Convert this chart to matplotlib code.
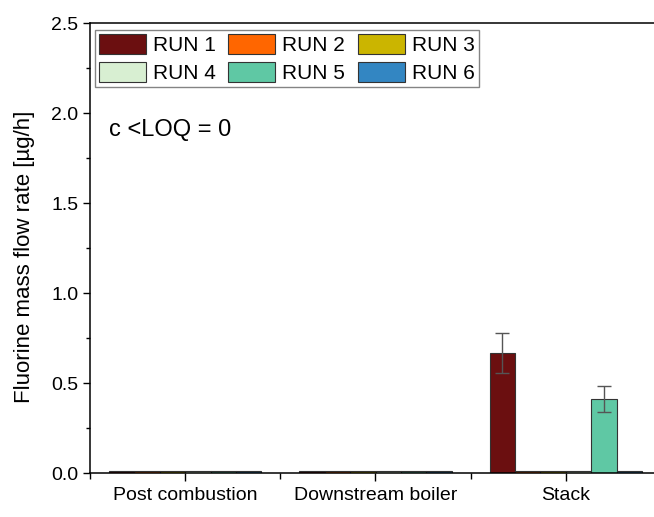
import numpy as np
import matplotlib
matplotlib.use("Agg")
import matplotlib.pyplot as plt
from matplotlib.ticker import MultipleLocator

plt.rcParams["font.family"] = ["Liberation Sans", "DejaVu Sans"]

locations = ["Post combustion", "Downstream boiler", "Stack"]
runs = ["RUN 1", "RUN 2", "RUN 3", "RUN 4", "RUN 5", "RUN 6"]
colors = ["#6b0f10", "#ff6600", "#cbb500", "#d8efd2", "#5fc8a4", "#3386c2"]

# values per run: [post combustion, downstream boiler, stack]
run1 = [0.013, 0.013, 0.667]
run2 = [0.013, 0.013, 0.013]
run3 = [0.013, 0.013, 0.013]
run4 = [0.013, 0.013, 0.013]
run5 = [0.013, 0.013, 0.411]
run6 = [0.013, 0.013, 0.013]
values = [run1, run2, run3, run4, run5, run6]

err1 = [0, 0, 0.11]
err5 = [0, 0, 0.072]
errors = [err1, None, None, None, err5, None]


def main():
    fig = plt.figure(figsize=(6.54, 5.17), dpi=100)
    ax = fig.add_axes([0.1376, 0.0845, 0.873, 0.8705])

    x = np.arange(1, len(locations) + 1)
    w = 0.1335
    handles = []
    for i, (vals, c, lab, err) in enumerate(zip(values, colors, runs, errors)):
        pos = x - 0.4 + w * (i + 0.5)
        h = ax.bar(pos, vals, width=w, color=c, edgecolor="#333333",
                   linewidth=0.8, label=lab)
        handles.append(h)
        if err is not None:
            mask = np.array(err) > 0
            ax.errorbar(pos[mask], np.array(vals)[mask], yerr=np.array(err)[mask],
                        fmt="none", ecolor="#555555", elinewidth=1,
                        capsize=5, capthick=1)

    ax.set_xlim(0.5, 3.5)
    ax.set_ylim(0, 2.5)
    ax.set_xticks(x)
    ax.set_xticklabels(locations, fontsize=14)
    ax.xaxis.set_minor_locator(MultipleLocator(1, offset=0.5))
    ax.yaxis.set_major_locator(MultipleLocator(0.5))
    ax.yaxis.set_minor_locator(MultipleLocator(0.25))
    ax.yaxis.set_major_formatter(plt.FormatStrFormatter("%.1f"))
    ax.tick_params(axis="y", which="major", direction="out", length=5,
                   labelsize=14, width=1)
    ax.tick_params(axis="y", which="minor", direction="out", length=3, width=1)
    ax.tick_params(axis="x", which="major", direction="out", length=6, width=1)
    ax.tick_params(axis="x", which="minor", direction="out", length=4, width=1)
    for s in ax.spines.values():
        s.set_linewidth(1.1)
    ax.spines["right"].set_visible(False)

    ax.set_ylabel("Fluorine mass flow rate [µg/h]", fontsize=16)
    ax.yaxis.set_label_coords(-0.096, 0.482)
    ax.text(0.034, 0.763, "c <LOQ = 0", transform=ax.transAxes, fontsize=17,
            va="center")

    # matplotlib fills legend columns first; reorder so rows read RUN 1-3, RUN 4-6
    order = [0, 3, 1, 4, 2, 5]
    ax.legend([handles[k] for k in order], [runs[k] for k in order],
              loc="upper left", ncol=3, fontsize=15, frameon=True,
              fancybox=False, edgecolor="#666666", borderpad=0.2,
              handlelength=2.25, handleheight=1.1, handletextpad=0.35,
              columnspacing=0.6, labelspacing=0.3,
              bbox_to_anchor=(0.008, 0.985), borderaxespad=0)

    fig.savefig("out.png", dpi=100)


if __name__ == "__main__":
    main()
